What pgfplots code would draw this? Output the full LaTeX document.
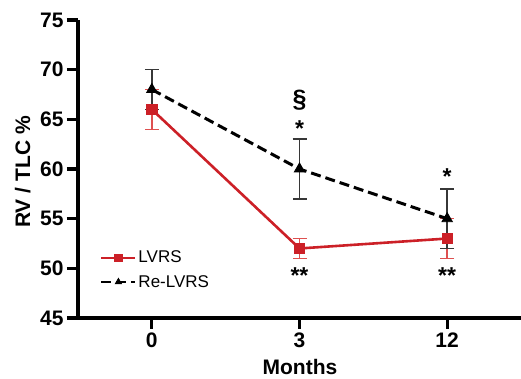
\documentclass[border=0pt]{standalone}
\usepackage{fontspec}
\setmainfont{Liberation Sans}
\usepackage{pgfplots}
\pgfplotsset{compat=1.18}
\definecolor{lvrsred}{RGB}{204,32,39}
\definecolor{errred}{RGB}{222,80,80}
\definecolor{errblack}{RGB}{55,55,55}
\begin{document}
\begin{tikzpicture}
\begin{axis}[
 scale only axis, width=443pt, height=298pt,
 xmin=-0.5, xmax=2.5, ymin=45, ymax=75,
 axis lines=left, axis line style={-, line width=3.2pt},
 xtick={0,1,2}, xticklabels={0,3,12},
 ytick={45,50,...,75},
 tick style={line width=3.2pt, black},
 major tick length=11pt,
 tick align=outside,
 ticklabel style={font=\bfseries\fontsize{21}{21}\selectfont},
 /pgf/number format/assume math mode=true,
 xlabel={Months}, ylabel={RV / TLC \%},
 every axis y label/.style={at={(axis description cs:-0.125,0.49)}, rotate=90, anchor=center, font=\bfseries\fontsize{21}{21}\selectfont},
 every axis x label/.style={at={(axis description cs:0.501,-0.165)}, anchor=center, font=\bfseries\fontsize{21}{21}\selectfont},
 legend style={draw=none, fill=none, at={(axis cs:-0.35,49.85)}, anchor=west, font=\fontsize{17}{17}\selectfont, row sep=7pt, inner sep=0pt},
 legend cell align=left,
 legend image code/.code={\draw[mark repeat=2, mark phase=2, #1, line width=2pt, mark size=3.6pt] plot coordinates {(0cm,0cm) (0.6cm,0cm) (1.2cm,0cm)};},
 clip=false,
]
\addplot[lvrsred, line width=2.6pt, mark=square*, mark size=5.2pt, mark options={solid, line width=0.8pt},
 error bars/.cd, y dir=both, y explicit, error mark=-,
 error bar style={line width=1.5pt, errred}, error mark options={line width=1.5pt, mark size=7pt, errred, rotate=90}]
 coordinates {(0,66) +- (0,2) (1,52) +- (0,1) (2,53) +- (0,2)};
\addlegendentry{LVRS}
\addplot[black, line width=3pt, dash pattern=on 10pt off 5pt, mark=triangle*, mark size=6pt, mark options={solid, line width=0.8pt},
 error bars/.cd, y dir=both, y explicit, error mark=-,
 error bar style={line width=1.5pt, solid, errblack}, error mark options={line width=1.5pt, mark size=7pt, errblack, rotate=90}]
 coordinates {(0,68) +- (0,2) (1,60) +- (0,3) (2,55) +- (0,3)};
\addlegendentry{Re-LVRS}
\node[font=\bfseries\fontsize{25}{25}\selectfont] at (axis cs:1,66.9) {\S};
\node[font=\bfseries\fontsize{23}{23}\selectfont] at (axis cs:1,64.1) {*};
\node[font=\bfseries\fontsize{23}{23}\selectfont] at (axis cs:2,59.2) {*};
\node[font=\bfseries\fontsize{23}{23}\selectfont] at (axis cs:1,49.3) {**};
\node[font=\bfseries\fontsize{23}{23}\selectfont] at (axis cs:2,49.3) {**};
\end{axis}
\pgfresetboundingbox
\path[use as bounding box] ([shift={(-78pt,-61pt)}]current axis.south west) rectangle ([shift={(0pt,20pt)}]current axis.north east);
\end{tikzpicture}
\end{document}
